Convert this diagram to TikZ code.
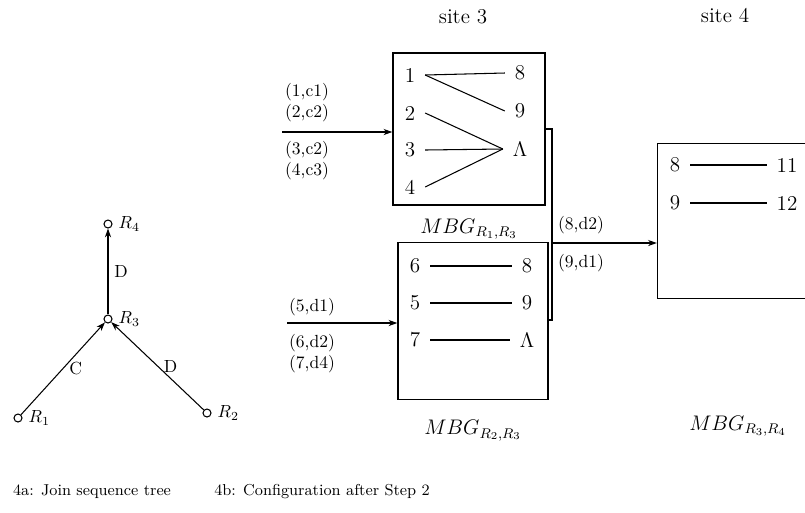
\documentclass[tikz,border=0pt]{standalone}
\usepackage{tikz}
\usetikzlibrary{arrows.meta, positioning, calc}

\begin{document}
\begin{tikzpicture}[x=0.02cm, y=-0.02cm, >={Stealth[length=5pt,width=3.5pt]},
  mbg/.style={rectangle, draw, thick, minimum width=3.04cm, minimum height=3.04cm},
  item/.style={inner sep=5.5pt, font=\large},
  link/.style={semithick},
  flow/.style={->, semithick},
  pairs/.style={align=center, inner sep=1pt},
  vtx/.style={circle, draw, semithick, inner sep=0pt, minimum size=0.16cm},
  title/.style={font=\large}]

  \useasboundingbox (0,0) rectangle (805,512);
  \clip (0,0) rectangle (805,512);

  % 4a: join sequence tree
  \node [vtx, label={right:$R_4$}] (r4) at (108,224) {};
  \node [vtx, label={right:$R_3$}] (r3) at (108,319) {};
  \node [vtx, label={right:$R_1$}] (r1) at (18,418) {};
  \node [vtx, label={right:$R_2$}] (r2) at (207,413) {};

  \draw[flow] (r3) -- node[pos=0.5, right] {D} (r4);
  \draw[flow] (r1) -- node[pos=0.5, right] {C} (r3);
  \draw[flow] (r2) -- node[pos=0.5, right] {D} (r3);

  % 4b: sites
  \node [title] (site3) at (463,17) {site 3};
  \node [title] (site4) at (725,15) {site 4};

  % MBG_{R1,R3}
  \node [mbg] (box1) at (469,129) {};
  \node [item] (a1) at (410,75) {1};
  \node [item] (a2) at (410,113) {2};
  \node [item] (a3) at (410,150) {3};
  \node [item] (a4) at (410,187) {4};
  \node [item] (b8) at (520,73) {8};
  \node [item] (b9) at (520,111) {9};
  \node [item] (bL) at (520,149) {$\Lambda$};
  \draw[link] (a1.east) -- (b8.west);
  \draw[link] (a1.east) -- (b9.west);
  \draw[link] (a2.east) -- (bL.west);
  \draw[link] (a3.east) -- (bL.west);
  \draw[link] (a4.east) -- (bL.west);
  \node [title, below=4pt of box1] (lab1) {$MBG_{R_1,R_3}$};

  % MBG_{R2,R3}
  \node [mbg, minimum width=3.0cm, minimum height=3.14cm] (box2) at (473,321) {};
  \node [item] (c6) at (415,266) {6};
  \node [item] (c5) at (415,303) {5};
  \node [item] (c7) at (415,340) {7};
  \node [item] (d8) at (527,266) {8};
  \node [item] (d9) at (527,303) {9};
  \node [item] (dL) at (527,340) {$\Lambda$};
  \draw[link] (c6) -- (d8);
  \draw[link] (c5) -- (d9);
  \draw[link] (c7) -- (dL);
  \node [title, below=8pt of box2] (lab2) {$MBG_{R_2,R_3}$};

  % MBG_{R3,R4}
  \node [mbg, minimum width=3.1cm, minimum height=3.1cm] (box3) at (735,221) {};
  \node [item] (e8) at (675,165) {8};
  \node [item] (e9) at (675,203) {9};
  \node [item] (f11) at (787,165) {11};
  \node [item] (f12) at (787,203) {12};
  \draw[link] (e8) -- (f11);
  \draw[link] (e9) -- (f12);
  \node [title] (lab3) at (738,426) {$MBG_{R_3,R_4}$};

  % incoming tuples
  \coordinate (in1) at (282,132);
  \coordinate (in2) at (287,323);
  \draw[flow] (in1) -- (in1 -| box1.west);
  \draw[flow] (in2) -- (in2 -| box2.west);
  \node [pairs] (t1) at (307,103) {(1,c1)\\(2,c2)};
  \node [pairs] (t2) at (307,161) {(3,c2)\\(4,c3)};
  \node [pairs] (t3) at (312,307) {(5,d1)};
  \node [pairs] (t4) at (312,354) {(6,d2)\\(7,d4)};

  % bracket to site 4
  \coordinate (bt) at (552,129);
  \coordinate (bb) at (552,320);
  \coordinate (bm) at (552,243);
  \draw[link] (box1.east |- bt) -- (bt) -- (bb) -- (box2.east |- bb);
  \draw[flow] (bm) -- (bm -| box3.west);
  \node [pairs, anchor=west] (t5) at (556,225) {(8,d2)};
  \node [pairs, anchor=west] (t6) at (556,263) {(9,d1)};

  % captions
  \node [font=\small] (cap1) at (92,492) {4a: Join sequence tree};
  \node [font=\small] (cap2) at (322,492) {4b: Configuration after Step 2};
\end{tikzpicture}
\end{document}
